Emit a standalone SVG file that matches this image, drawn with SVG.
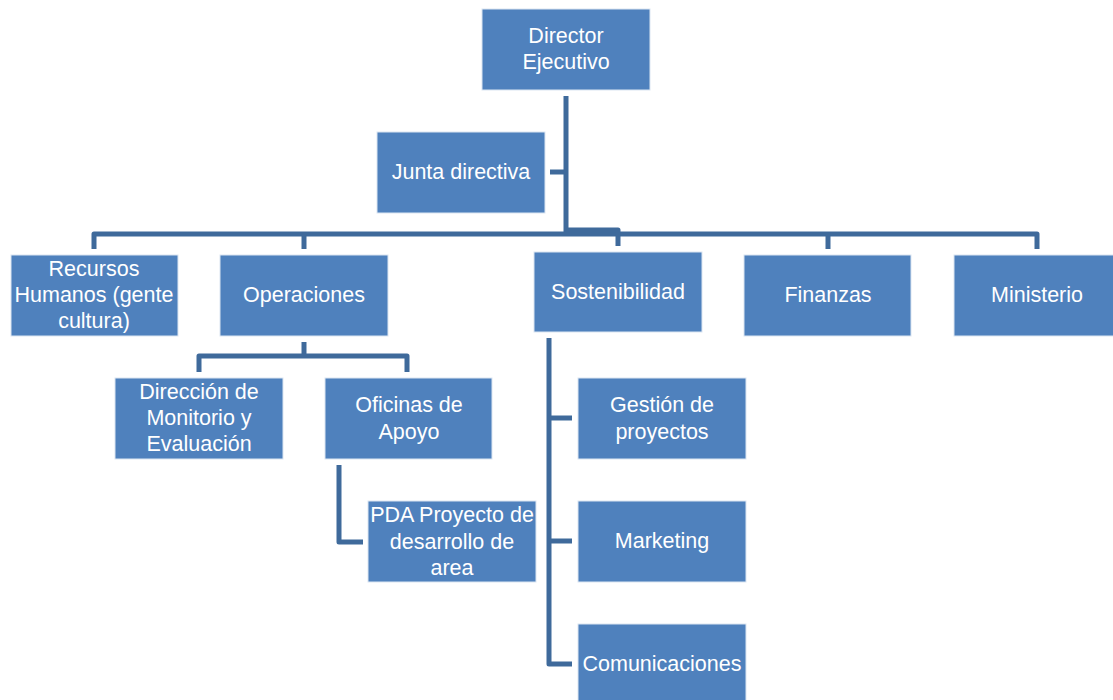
<svg xmlns="http://www.w3.org/2000/svg" width="1113" height="700" viewBox="0 0 1113 700">
<style>
.box{fill:#4F81BD;stroke:#DCE6F2;stroke-width:1}
.t{fill:#FFFFFF;font-family:"Liberation Sans",Arial,sans-serif;font-size:21.5px;text-anchor:middle}
.c{fill:none;stroke:#3F6A9B;stroke-width:5;stroke-linejoin:round;stroke-linecap:butt}
</style>
<rect width="1113" height="700" fill="#FFFFFF"/>
<g id="connectors">
<path class="c" d="M566,96 V234"/>
<path class="c" d="M550,172 H566"/>
<path class="c" d="M94,249 V234 H1037 V249"/>
<path class="c" d="M304,234 V249"/>
<path class="c" d="M566,230 H618 V246"/>
<path class="c" d="M828,234 V249"/>
<path class="c" d="M304,342 V356"/>
<path class="c" d="M199,372 V356 H407 V372"/>
<path class="c" d="M339,465 V542 H363"/>
<path class="c" d="M549,338 V664 H572"/>
<path class="c" d="M549,418 H572"/>
<path class="c" d="M549,541 H572"/>
</g>
<g id="director"><rect class="box" x="482" y="9" width="168" height="81"/><text class="t" x="566" y="43">Director</text><text class="t" x="566" y="69">Ejecutivo</text></g>
<g id="junta"><rect class="box" x="377" y="132" width="168" height="81"/><text class="t" x="461" y="179">Junta directiva</text></g>
<g id="recursos"><rect class="box" x="11" y="255" width="167" height="81"/><text class="t" x="94" y="276">Recursos</text><text class="t" x="94" y="302">Humanos (gente</text><text class="t" x="94" y="328">cultura)</text></g>
<g id="operaciones"><rect class="box" x="220" y="255" width="168" height="81"/><text class="t" x="304" y="302">Operaciones</text></g>
<g id="sostenibilidad"><rect class="box" x="534" y="252" width="168" height="80"/><text class="t" x="618" y="299">Sostenibilidad</text></g>
<g id="finanzas"><rect class="box" x="744" y="255" width="167" height="81"/><text class="t" x="828" y="302">Finanzas</text></g>
<g id="ministerio"><rect class="box" x="954" y="255" width="160" height="81"/><text class="t" x="1037" y="302">Ministerio</text></g>
<g id="direccion"><rect class="box" x="115" y="378" width="168" height="81"/><text class="t" x="199" y="399">Dirección de</text><text class="t" x="199" y="425">Monitorio y</text><text class="t" x="199" y="451">Evaluación</text></g>
<g id="oficinas"><rect class="box" x="325" y="378" width="167" height="81"/><text class="t" x="409" y="412">Oficinas de</text><text class="t" x="409" y="439">Apoyo</text></g>
<g id="pda"><rect class="box" x="368" y="501" width="168" height="81"/><text class="t" x="452" y="522">PDA Proyecto de</text><text class="t" x="452" y="549">desarrollo de</text><text class="t" x="452" y="575">area</text></g>
<g id="gestion"><rect class="box" x="578" y="378" width="168" height="81"/><text class="t" x="662" y="412">Gestión de</text><text class="t" x="662" y="439">proyectos</text></g>
<g id="marketing"><rect class="box" x="578" y="501" width="168" height="81"/><text class="t" x="662" y="548">Marketing</text></g>
<g id="comunicaciones"><rect class="box" x="578" y="624" width="168" height="81"/><text class="t" x="662" y="671">Comunicaciones</text></g>
</svg>
